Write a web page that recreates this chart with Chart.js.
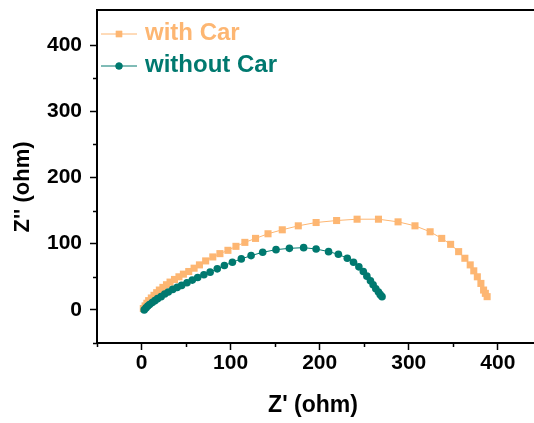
<!DOCTYPE html>
<html>
<head>
<meta charset="utf-8">
<script src="https://cdn.jsdelivr.net/npm/chart.js@4"></script>
<style>
  html, body { margin: 0; padding: 0; background: #fff; }
  #wrap { width: 534px; height: 423px; }
</style>
</head>
<body>
<div id="wrap"><canvas id="myChart" width="534" height="423"></canvas></div>
<script>
// with Car (orange squares) - Z' and Z''
const withCarX = [2, 4, 6, 8, 11, 14, 17, 20, 24, 28, 32, 37, 42, 47, 53, 59, 65, 72, 80, 88, 97, 106, 116, 128, 142, 158, 176, 196, 219, 242, 266, 288, 307, 324, 337, 347, 356, 363, 369, 373, 377, 381, 384, 386, 388];
const withCarY = [2, 6, 10, 14, 18, 22, 26, 30, 34, 38, 42, 46, 50, 54, 58, 63, 68, 74, 80, 85, 90, 96, 102, 108, 115, 121, 127, 132, 135, 137, 137, 133, 127, 118, 108, 99, 88, 78, 68, 59, 50, 40, 30, 25, 20];

// without Car (teal circles)
const noCarX = [3, 5, 7, 9, 12, 15, 18, 22, 26, 30, 35, 40, 45, 51, 57, 63, 70, 77, 85, 93, 102, 112, 123, 136, 151, 166, 182, 196, 210, 221, 231, 238, 244, 249, 253, 257, 260, 263, 266, 268, 270];
const noCarY = [0, 3, 6, 8, 11, 14, 17, 20, 24, 27, 31, 34, 37, 41, 45, 49, 53, 57, 62, 67, 72, 77, 82, 87, 91, 93, 94, 92, 88, 84, 78, 72, 65, 58, 51, 44, 38, 32, 27, 23, 20];

const seriesNames = ['with Car', 'without Car'];
const xMajor = [0, 100, 200, 300, 400];
const yMajor = [0, 100, 200, 300, 400];
const xMinor = [-50, 50, 150, 250, 350];
const yMinor = [-50, 50, 150, 250, 350];

const orange = '#fdb672';
const teal = '#00796f';
const font = 'Arial, "Liberation Sans", sans-serif';

function pts(xs, ys) {
  return xs.map((x, i) => ({ x: x, y: ys[i] }));
}

const extras = {
  id: 'extras',
  afterDraw(chart) {
    const c = chart.ctx;
    const a = chart.chartArea;
    const sx = chart.scales.x, sy = chart.scales.y;
    c.save();
    c.strokeStyle = '#000';
    c.lineWidth = 2;
    // top border, and bottom axis running on to the cropped edge
    c.beginPath();
    c.moveTo(a.left - 1, a.top);
    c.lineTo(chart.width, a.top);
    c.moveTo(a.right - 1, a.bottom);
    c.lineTo(chart.width, a.bottom);
    c.stroke();
    // minor ticks
    c.lineWidth = 1.5;
    xMinor.forEach(v => {
      const px = Math.round(sx.getPixelForValue(v)) + 0.5;
      c.beginPath(); c.moveTo(px, a.bottom); c.lineTo(px, a.bottom + 4); c.stroke();
    });
    yMinor.forEach(v => {
      const py = Math.round(sy.getPixelForValue(v)) + 0.5;
      c.beginPath(); c.moveTo(a.left, py); c.lineTo(a.left - 4, py); c.stroke();
    });
    // y title
    c.fillStyle = '#000';
    c.font = 'bold 22px ' + font;
    c.textAlign = 'center';
    c.textBaseline = 'middle';
    c.translate(23, 187);
    c.rotate(-Math.PI / 2);
    c.fillText("Z'' (ohm)", 0, 0);
    c.restore();

    // legend
    c.save();
    const items = [
      { y: 34, color: orange, style: 'rect', r: 4.5 },
      { y: 66, color: teal, style: 'circle', r: 3.5 }
    ];
    items.forEach((it, i) => {
      c.strokeStyle = it.color;
      c.lineWidth = 1;
      c.beginPath(); c.moveTo(101, it.y); c.lineTo(137, it.y); c.stroke();
      c.fillStyle = it.color;
      Chart.helpers.drawPoint(c, { pointStyle: it.style, radius: it.r, rotation: 0, borderWidth: 0 }, 119, it.y);
      c.fill();
      c.font = 'bold 24px ' + font;
      c.textAlign = 'left';
      c.textBaseline = 'middle';
      c.fillText(seriesNames[i], 145, it.y - 1);
    });
    c.restore();
  }
};

const ctx = document.getElementById('myChart').getContext('2d');
const myChart = new Chart(ctx, {
  type: 'scatter',
  data: {
    datasets: [
      {
        label: seriesNames[1],
        data: pts(noCarX, noCarY),
        showLine: true,
        borderColor: teal,
        borderWidth: 1,
        backgroundColor: teal,
        pointBackgroundColor: teal,
        pointBorderWidth: 0,
        pointStyle: 'circle',
        pointRadius: 3.8
      },
      {
        label: seriesNames[0],
        data: pts(withCarX, withCarY),
        showLine: true,
        borderColor: orange,
        borderWidth: 1,
        backgroundColor: orange,
        pointBackgroundColor: orange,
        pointBorderWidth: 0,
        pointStyle: 'rect',
        pointRadius: 5
      }
    ]
  },
  options: {
    responsive: false,
    animation: false,
    layout: { padding: { top: 10, right: 0, left: 0, bottom: 0 } },
    plugins: {
      legend: { display: false },
      tooltip: { enabled: false }
    },
    scales: {
      x: {
        type: 'linear',
        min: -50,
        max: 435,
        afterFit: s => { s.height = 80; s.paddingRight = 0; s.paddingLeft = 0; },
        afterBuildTicks: s => { s.ticks = xMajor.map(v => ({ value: v })); },
        border: { display: true, color: '#000', width: 2 },
        grid: { drawOnChartArea: false, drawTicks: true, tickLength: 7, tickColor: '#000', tickWidth: 1.5 },
        ticks: { color: '#000', padding: 1, maxRotation: 0, font: { family: font, size: 21, weight: 'bold' } },
        title: { display: true, text: "Z' (ohm)", color: '#000', padding: { top: 12 }, font: { family: font, size: 23, weight: 'bold' } }
      },
      y: {
        type: 'linear',
        min: -50,
        max: 453,
        afterFit: s => { s.width = 97; s.paddingTop = 0; s.paddingBottom = 0; },
        afterBuildTicks: s => { s.ticks = yMajor.map(v => ({ value: v })); },
        border: { display: true, color: '#000', width: 2 },
        grid: { drawOnChartArea: false, drawTicks: true, tickLength: 7, tickColor: '#000', tickWidth: 1.5 },
        ticks: { color: '#000', padding: 8, font: { family: font, size: 21, weight: 'bold' } },
        title: { display: false }
      }
    }
  },
  plugins: [extras]
});
</script>
</body>
</html>
